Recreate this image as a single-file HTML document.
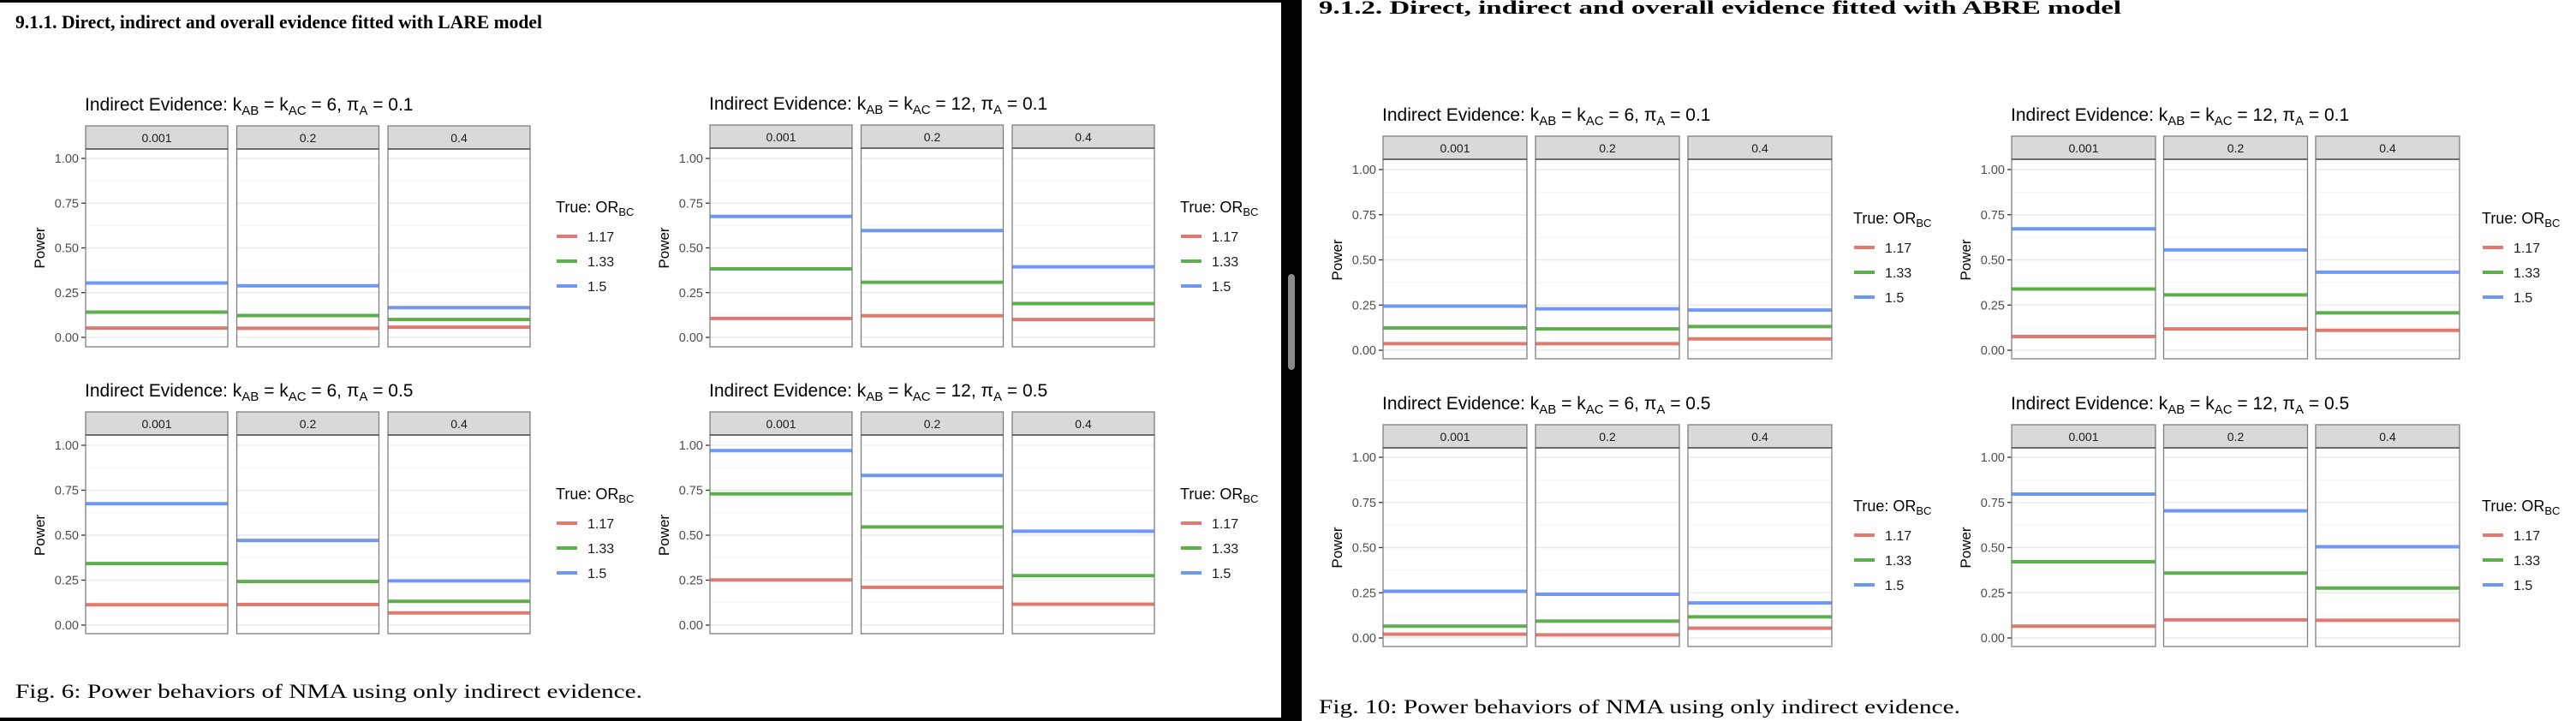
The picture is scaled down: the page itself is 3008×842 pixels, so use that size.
<!DOCTYPE html>
<html><head><meta charset="utf-8">
<style>
html,body{margin:0;padding:0;background:#fff;}
svg{display:block;}
.sans{font-family:"Liberation Sans Narrow","Liberation Sans",sans-serif;}
.serif{font-family:"Liberation Serif",serif;}
</style></head>
<body>
<svg id="root" width="3008" height="842" viewBox="0 0 3008 842" xmlns="http://www.w3.org/2000/svg">
  <rect x="0" y="0" width="3008" height="842" fill="#fff"/>
  <rect x="0" y="0" width="1496" height="3" fill="#000"/>
  <rect x="0" y="838" width="1496" height="4" fill="#000"/>
  <rect x="1496" y="0" width="24" height="842" fill="#000"/>
  <rect x="1504" y="320" width="8" height="112" rx="4" fill="#8a8a8a"/>
  <text class="serif" x="18" y="33" font-size="22" font-weight="bold" textLength="615" lengthAdjust="spacingAndGlyphs">9.1.1. Direct, indirect and overall evidence fitted with LARE model</text>
  <text class="serif" x="1540" y="16" font-size="22" font-weight="bold" textLength="937" lengthAdjust="spacingAndGlyphs">9.1.2. Direct, indirect and overall evidence fitted with ABRE model</text>
  <text class="serif" x="18" y="815" font-size="23" textLength="732" lengthAdjust="spacingAndGlyphs">Fig. 6: Power behaviors of NMA using only indirect evidence.</text>
  <text class="serif" x="1540" y="833" font-size="23" textLength="749" lengthAdjust="spacingAndGlyphs">Fig. 10: Power behaviors of NMA using only indirect evidence.</text>
  <g id="charts"></g>
</svg>
<script>
const facets = ["0.001","0.2","0.4"];
const seriesNames = ["1.17","1.33","1.5"];
const yTicks = [0,0.25,0.5,0.75,1];
const yTickLabels = ["0.00","0.25","0.50","0.75","1.00"];
// values per chart: [series][facet]
const lareK6P01 = [[0.052,0.051,0.057],[0.141,0.122,0.100],[0.304,0.288,0.166]];
const lareK12P01 = [[0.106,0.121,0.100],[0.383,0.308,0.189],[0.676,0.597,0.394]];
const lareK6P05 = [[0.113,0.114,0.068],[0.342,0.242,0.132],[0.675,0.471,0.246]];
const lareK12P05 = [[0.251,0.210,0.116],[0.730,0.546,0.275],[0.970,0.832,0.522]];
const abreK6P01 = [[0.036,0.036,0.063],[0.123,0.118,0.131],[0.244,0.229,0.222]];
const abreK12P01 = [[0.076,0.118,0.110],[0.339,0.306,0.207],[0.672,0.555,0.432]];
const abreK6P05 = [[0.021,0.017,0.054],[0.065,0.093,0.117],[0.258,0.242,0.194]];
const abreK12P05 = [[0.065,0.100,0.098],[0.422,0.359,0.276],[0.796,0.704,0.505]];

const colors = ["#E07A70","#5CAF4B","#6F98F6"];
const NS = "http://www.w3.org/2000/svg";
function mk(tag, attrs, parent){const e=document.createElementNS(NS,tag);for(const k in attrs)e.setAttribute(k,attrs[k]);parent.appendChild(e);return e;}

const layouts = [
 {name:"lare-k6-pi01", data:lareK6P01, k:"6", pi:"0.1", x:100, top:147, y1:185, y0:394, bot:405, w:166, step:176.5, titleW:391},
 {name:"lare-k12-pi01", data:lareK12P01, k:"12", pi:"0.1", x:829, top:146, y1:185, y0:394, bot:405, w:166, step:176.5, titleW:403},
 {name:"lare-k6-pi05", data:lareK6P05, k:"6", pi:"0.5", x:100, top:481, y1:520, y0:730, bot:740, w:166, step:176.5, titleW:391},
 {name:"lare-k12-pi05", data:lareK12P05, k:"12", pi:"0.5", x:829, top:481, y1:520, y0:730, bot:740, w:166, step:176.5, titleW:403},
 {name:"abre-k6-pi01", data:abreK6P01, k:"6", pi:"0.1", x:1615, top:159, y1:198, y0:409, bot:419, w:168, step:178, titleW:393},
 {name:"abre-k12-pi01", data:abreK12P01, k:"12", pi:"0.1", x:2349, top:159, y1:198, y0:409, bot:419, w:168, step:177.5, titleW:405},
 {name:"abre-k6-pi05", data:abreK6P05, k:"6", pi:"0.5", x:1615, top:496, y1:534, y0:745, bot:755, w:168, step:178, titleW:393},
 {name:"abre-k12-pi05", data:abreK12P05, k:"12", pi:"0.5", x:2349, top:496, y1:534, y0:745, bot:755, w:168, step:177.5, titleW:405}
];

const root = document.getElementById("charts");
layouts.forEach(L=>{
  const g = mk("g",{},root);
  
  
  const yScale = v => L.y0 + (L.y1-L.y0)*v;
  const stripBottom = L.top+27;
  // title
  const t = mk("text",{class:"sans",x:L.x-1,y:L.top-18,"font-size":21,fill:"#000"},g);
  
  
  t.innerHTML = 'Indirect Evidence: k<tspan font-size="15" dy="5">AB</tspan><tspan dy="-5"> = k</tspan><tspan font-size="15" dy="5">AC</tspan><tspan dy="-5"> = '+L.k+', \u03C0</tspan><tspan font-size="15" dy="5">A</tspan><tspan dy="-5"> = '+L.pi+'</tspan>';
  // y axis title
  const yt = mk("text",{class:"sans",x:0,y:0,"font-size":17,"text-anchor":"middle",transform:"translate("+(L.x-48)+","+((L.y0+L.y1)/2)+") rotate(-90)"},g);
  yt.textContent = "Power";
  
  
  // ticks
  yTicks.forEach((v,i)=>{
    const y = yScale(v);
    const tk = mk("line",{x1:L.x-5,x2:L.x,y1:y,y2:y,stroke:"#333","stroke-width":1.3},g);
    
    
    const tl = mk("text",{class:"sans",x:L.x-8,y:y+5,"font-size":14.5,"text-anchor":"end",fill:"#4d4d4d"},g);
    tl.textContent = yTickLabels[i];
    
    
  });
  facets.forEach((f,fi)=>{
    const px = L.x + fi*L.step;
    const pg = mk("g",{},g);
    
    
    const st = mk("rect",{x:px,y:L.top,width:L.w,height:27,fill:"#d9d9d9",stroke:"#7f7f7f","stroke-width":1.3},pg);
    
    
    const sl = mk("text",{class:"sans",x:px+L.w/2,y:L.top+19,"font-size":14,"text-anchor":"middle",fill:"#1a1a1a"},pg);
    sl.textContent = f;
    
    
    // minor grid
    [0.125,0.375,0.625,0.875].forEach(v=>{mk("line",{x1:px,x2:px+L.w,y1:yScale(v),y2:yScale(v),stroke:"#f4f4f4","stroke-width":1},pg);});
    yTicks.forEach(v=>{
      const gl = mk("line",{x1:px,x2:px+L.w,y1:yScale(v),y2:yScale(v),stroke:"#ebebeb","stroke-width":1.6},pg);
      
      
    });
    L.data.forEach((ser,si)=>{
      const y = yScale(ser[fi]);
      const ln = mk("line",{x1:px,x2:px+L.w,y1:y,y2:y,stroke:colors[si],"stroke-width":4},pg);
      
      
    });
    const bd = mk("rect",{x:px,y:stripBottom,width:L.w,height:L.bot-stripBottom,fill:"none",stroke:"#7f7f7f","stroke-width":1.3},pg);
    
    
    mk("line",{x1:px,x2:px+L.w,y1:stripBottom,y2:stripBottom,stroke:"#555","stroke-width":1.5},pg);
  });
  // legend
  const lx = L.x + 549;
  const lg = mk("g",{},g);
  
  
  const lt = mk("text",{class:"sans",x:lx,y:L.y1+63,"font-size":18},lg);
  lt.innerHTML = 'True: OR<tspan font-size="13" dy="4">BC</tspan>';
  
  
  seriesNames.forEach((s,si)=>{
    const y = L.y1 + 91 + si*29;
    const e = mk("g",{},lg);
    
    
    mk("line",{x1:lx+1,x2:lx+25,y1:y,y2:y,stroke:colors[si],"stroke-width":4},e);
    const tx = mk("text",{class:"sans",x:lx+37,y:y+6,"font-size":16,fill:"#1a1a1a"},e);
    tx.textContent = s;
  });
});
</script>
</body></html>
